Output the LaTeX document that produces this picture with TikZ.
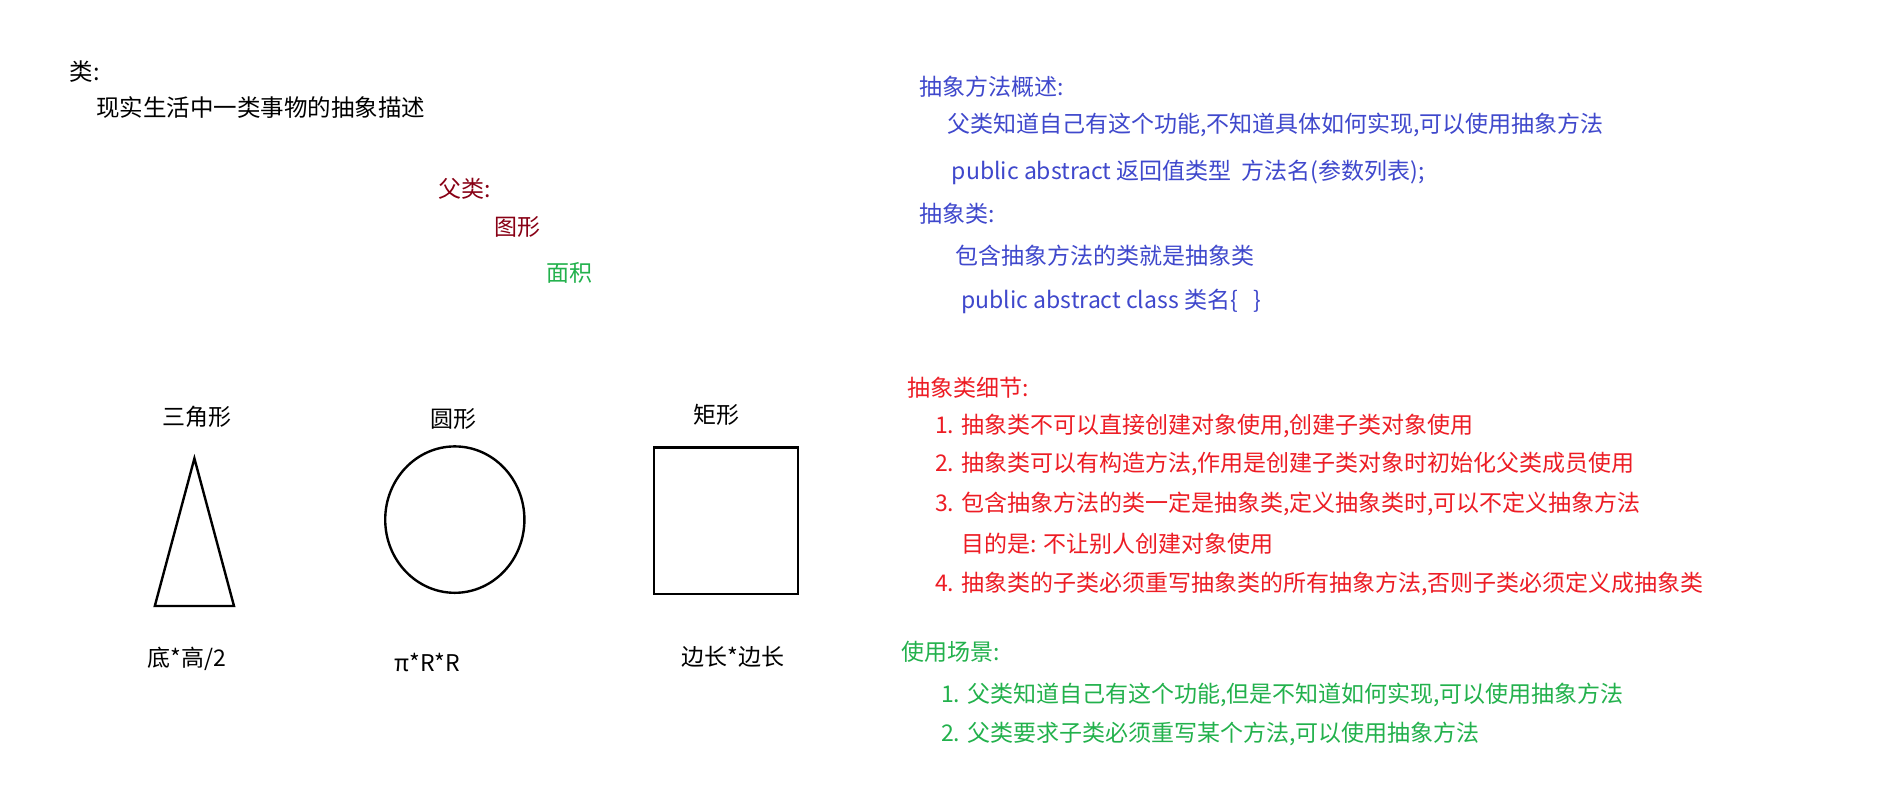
\documentclass[tikz,border=0pt]{standalone}
\usepackage{fontspec}
\setmainfont{Noto Sans CJK SC}
\definecolor{noteblue}{RGB}{63,72,204}
\definecolor{notered}{RGB}{237,28,36}
\definecolor{notegreen}{RGB}{34,177,76}
\definecolor{notedark}{RGB}{136,0,21}
\begin{document}
\begin{tikzpicture}[x=1.2pt,y=-1.2pt,
    txt/.style={anchor=west,inner sep=0pt,yshift=-2.4pt,font=\fontsize{23}{27}\selectfont},
    big/.style={txt,font=\fontsize{23.5}{28}\selectfont},
    lbl/.style={inner sep=0pt,yshift=-2.4pt,font=\fontsize{23}{27}\selectfont},
    figline/.style={line width=2.4pt}]
    \useasboundingbox[fill=white] (0,0) rectangle (1575.8,665.8);
    %% class
    \node[big] (cls) at (58,58) {类:};
    \node[big] (clsdesc) at (80,88) {现实生活中一类事物的抽象描述};
    \node[txt,notedark] (parent) at (365,155) {父类:};
    \node[txt,notedark] (figure) at (412,187) {图形};
    \node[txt,notegreen] (area) at (455,225) {面积};
    %% shapes
    \node[lbl] (tri) at (164,345) {三角形};
    \draw[figline] (162,382) -- (195,505) -- (129,505) -- cycle;
    \node[lbl] (triarea) at (156,547) {底*高/2};
    \node[lbl] (circ) at (378,347) {圆形};
    \draw[figline] (379,433) ellipse (58 and 61);
    \node[lbl] (circarea) at (356,550) {π*R*R};
    \node[lbl] (rect) at (597,344) {矩形};
    \draw[figline] (545,373) rectangle (665,495);
    \node[lbl] (rectarea) at (611,545) {边长*边长};
    %% abstract method
    \node[txt,noteblue] (absm) at (766,70) {抽象方法概述:};
    \node[txt,noteblue] (absm1) at (789,102) {父类知道自己有这个功能,不知道具体如何实现,可以使用抽象方法};
    \node[txt,noteblue] (absm2) at (793,142) {public abstract 返回值类型\ \ 方法名(参数列表);};
    \node[txt,noteblue] (absc) at (766,176) {抽象类:};
    \node[txt,noteblue] (absc1) at (796,211) {包含抽象方法的类就是抽象类};
    \node[txt,noteblue] (absc2) at (801,249) {public abstract class 类名\{\ \ \ \}};
    %% details
    \node[txt,notered] (det) at (756,321) {抽象类细节:};
    \node[txt,notered] (det1) at (779,353) {1. 抽象类不可以直接创建对象使用,创建子类对象使用};
    \node[txt,notered] (det2) at (779,385) {2. 抽象类可以有构造方法,作用是创建子类对象时初始化父类成员使用};
    \node[txt,notered] (det3) at (779,418) {3. 包含抽象方法的类一定是抽象类,定义抽象类时,可以不定义抽象方法};
    \node[txt,notered] (det3b) at (801,451) {目的是: 不让别人创建对象使用};
    \node[txt,notered] (det4) at (779,485) {4. 抽象类的子类必须重写抽象类的所有抽象方法,否则子类必须定义成抽象类};
    %% usage
    \node[txt,notegreen] (use) at (751,541) {使用场景:};
    \node[txt,notegreen] (use1) at (784,577) {1. 父类知道自己有这个功能,但是不知道如何实现,可以使用抽象方法};
    \node[txt,notegreen] (use2) at (784,610) {2. 父类要求子类必须重写某个方法,可以使用抽象方法};
\end{tikzpicture}
\end{document}
